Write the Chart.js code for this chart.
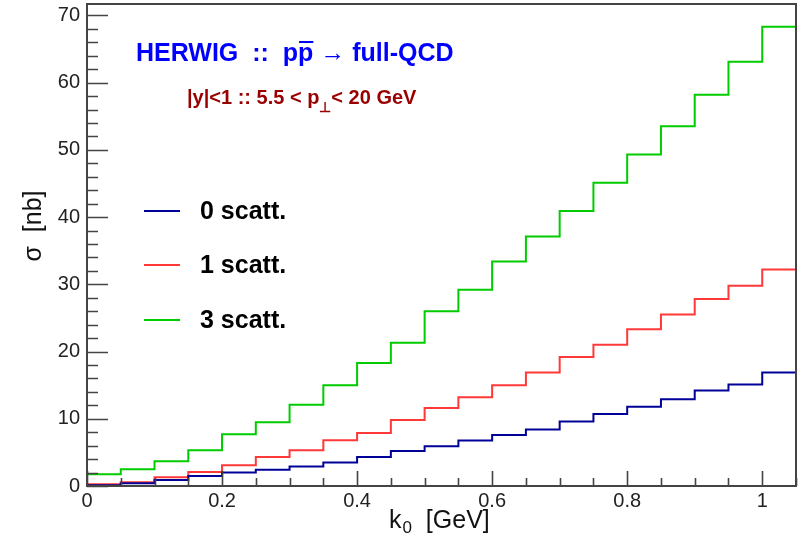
<!DOCTYPE html>
<html>
<head>
<meta charset="utf-8">
<script src="https://cdn.jsdelivr.net/npm/chart.js@4.4.1/dist/chart.umd.min.js"></script>
<style>
  html, body { margin: 0; padding: 0; background: #fff; }
</style>
</head>
<body>
<canvas id="xsec" width="806" height="538"></canvas>
<script>
// k0 bins, 0.05 GeV wide
const binEdges = [0, 0.05, 0.1, 0.15, 0.2, 0.25, 0.3, 0.35, 0.4, 0.45, 0.5,
                  0.55, 0.6, 0.65, 0.7, 0.75, 0.8, 0.85, 0.9, 0.95, 1.0, 1.05];

// sigma [nb] per bin
const scatt0 = [0.1, 0.4, 0.9, 1.5, 2.0, 2.4, 2.9, 3.5, 4.3, 5.2, 5.9,
                6.75, 7.6, 8.4, 9.6, 10.7, 11.8, 12.9, 14.2, 15.1, 16.9];
const scatt1 = [0.25, 0.55, 1.3, 2.1, 3.1, 4.3, 5.3, 6.8, 7.9, 9.8, 11.6,
                13.2, 15.0, 16.9, 19.2, 21.0, 23.3, 25.5, 27.8, 29.8, 32.2];
const scatt3 = [1.75, 2.5, 3.7, 5.3, 7.7, 9.5, 12.1, 15.0, 18.3, 21.3, 26.0,
                29.2, 33.4, 37.1, 40.9, 45.1, 49.3, 53.5, 58.2, 63.1, 68.3];

const seriesNames = ['0 scatt.', '1 scatt.', '3 scatt.'];
const seriesColors = ['#000099', '#ff3838', '#00cc00'];

const xTicks = [0, 0.2, 0.4, 0.6, 0.8, 1];
const yTicks = [0, 10, 20, 30, 40, 50, 60, 70];

const FONT = '"Liberation Sans", Arial, Helvetica, sans-serif';

// histogram outline: one point per lower edge, last value repeated at the upper edge
// (stepped 'before' keeps each value flat until the next edge)
function histPoints(vals) {
    return binEdges.map((x, i) => ({ x: x, y: vals[Math.min(i, vals.length - 1)] }));
}

// ROOT-like frame with inward ticks
const frameTicks = {
    id: 'frameTicks',
    afterDatasetsDraw(chart) {
        const { ctx, chartArea: a, scales: { x, y } } = chart;
        ctx.save();
        ctx.strokeStyle = '#444';
        ctx.lineWidth = 1.6;
        ctx.beginPath();
        for (let v = 0; v <= 1.05 + 1e-9; v += 0.05) {
            const px = Math.round(x.getPixelForValue(v)) + 0.5;
            const major = Math.abs(v / 0.2 - Math.round(v / 0.2)) < 1e-6;
            ctx.moveTo(px, a.bottom);
            ctx.lineTo(px, a.bottom - (major ? 15 : 8));
        }
        for (let v = 0; v <= 71; v += 2) {
            const py = Math.round(y.getPixelForValue(v)) + 0.5;
            ctx.moveTo(a.left, py);
            ctx.lineTo(a.left + (v % 10 === 0 ? 21 : 11), py);
        }
        ctx.stroke();
        ctx.lineWidth = 2;
        ctx.strokeRect(a.left, a.top, a.right - a.left, a.bottom - a.top);
        ctx.restore();
    }
};

// titles, axis labels and legend
const labels = {
    id: 'labels',
    afterDraw(chart) {
        const { ctx } = chart;
        ctx.save();
        ctx.textBaseline = 'alphabetic';
        ctx.textAlign = 'left';

        // process title
        ctx.fillStyle = '#0000ff';
        ctx.font = 'bold 25px ' + FONT;
        let tx = 136;
        const ty = 61;
        const t1 = 'HERWIG  ::  p';
        ctx.fillText(t1, tx, ty);
        tx += ctx.measureText(t1).width;
        const pw = ctx.measureText('p').width;
        ctx.fillText('p', tx, ty);
        ctx.fillRect(tx + 1, ty - 20, pw - 1, 2);
        tx += pw;
        ctx.fillText(' \u2192 full-QCD', tx, ty);

        // kinematic cuts
        ctx.fillStyle = '#990000';
        ctx.font = 'bold 20px ' + FONT;
        let sx = 187;
        const sy = 104;
        const s1 = '|y|<1 :: 5.5 < p';
        ctx.fillText(s1, sx, sy);
        sx += ctx.measureText(s1).width;
        ctx.font = 'bold 14px ' + FONT;
        ctx.fillText('\u22A5', sx, sy + 8);
        sx += ctx.measureText('\u22A5').width;
        ctx.font = 'bold 20px ' + FONT;
        ctx.fillText('< 20 GeV', sx, sy);

        // axis titles
        ctx.fillStyle = '#111';
        ctx.font = '25px ' + FONT;
        let kx = 389;
        const ky = 528;
        ctx.fillText('k', kx, ky);
        kx += ctx.measureText('k').width + 1;
        ctx.font = '17px ' + FONT;
        ctx.fillText('0', kx, ky + 5);
        kx += ctx.measureText('0').width;
        ctx.font = '25px ' + FONT;
        ctx.fillText('  [GeV]', kx, ky);

        ctx.save();
        ctx.translate(41, 226);
        ctx.rotate(-Math.PI / 2);
        ctx.textAlign = 'center';
        ctx.fillText('\u03C3  [nb]', 0, 0);
        ctx.restore();

        // legend
        const rows = [211, 265, 320];
        chart.data.datasets.forEach((ds, i) => {
            ctx.strokeStyle = ds.borderColor;
            ctx.lineWidth = 2;
            ctx.beginPath();
            ctx.moveTo(144, rows[i]);
            ctx.lineTo(180, rows[i]);
            ctx.stroke();
            ctx.fillStyle = '#000';
            ctx.font = 'bold 25px ' + FONT;
            ctx.fillText(ds.label, 200, rows[i] + 8);
        });
        ctx.restore();
    }
};

// fixed axis boxes so the frame sits where it should
function fixBox(w, h) {
    return s => {
        if (w !== null) s.width = w;
        if (h !== null) s.height = h;
        s.paddingTop = 0;
        s.paddingBottom = 0;
        s.paddingLeft = 0;
        s.paddingRight = 0;
    };
}

const ctx = document.getElementById('xsec').getContext('2d');
new Chart(ctx, {
    type: 'line',
    data: {
        datasets: [scatt0, scatt1, scatt3].map((vals, i) => ({
            label: seriesNames[i],
            data: histPoints(vals),
            borderColor: seriesColors[i],
            backgroundColor: seriesColors[i],
            borderWidth: 2,
            stepped: 'before',
            pointRadius: 0,
            fill: false
        }))
    },
    options: {
        responsive: false,
        animation: false,
        devicePixelRatio: 1,
        layout: { autoPadding: false, padding: { top: 4, right: 10, left: 0, bottom: 0 } },
        plugins: { legend: { display: false }, tooltip: { enabled: false } },
        scales: {
            x: {
                type: 'linear',
                min: 0,
                max: 1.05,
                grid: { display: false, drawTicks: false },
                border: { display: false },
                ticks: {
                    color: '#222',
                    font: { family: FONT, size: 20 },
                    padding: 3,
                    maxRotation: 0,
                    autoSkip: false,
                    callback: v => String(v)
                },
                afterBuildTicks: s => { s.ticks = xTicks.map(v => ({ value: v })); },
                afterFit: fixBox(null, 52)
            },
            y: {
                type: 'linear',
                min: 0,
                max: 71.7,
                grid: { display: false, drawTicks: false },
                border: { display: false },
                ticks: {
                    color: '#222',
                    font: { family: FONT, size: 20 },
                    padding: 7,
                    autoSkip: false,
                    callback: v => String(v)
                },
                afterBuildTicks: s => { s.ticks = yTicks.map(v => ({ value: v })); },
                afterFit: fixBox(87, null)
            }
        }
    },
    plugins: [frameTicks, labels]
});
</script>
</body>
</html>
